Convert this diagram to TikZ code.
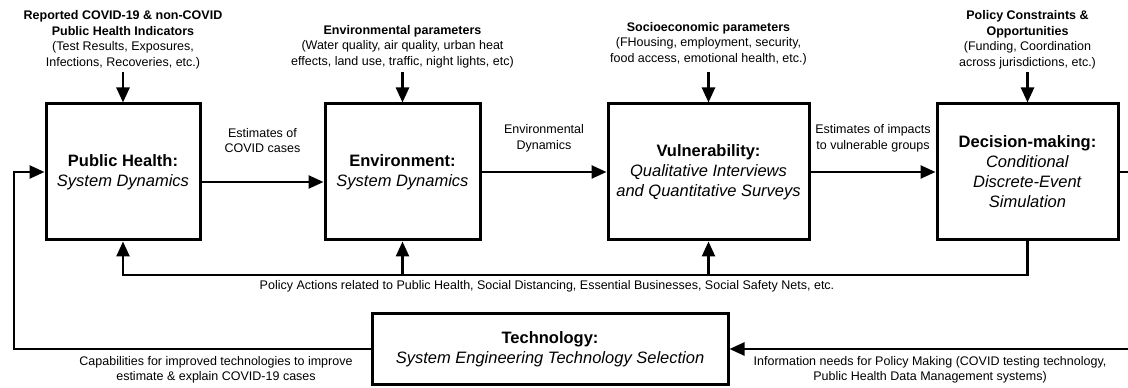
\documentclass[tikz,border=0pt]{standalone}
\usepackage{fontspec}
\setmainfont{Liberation Sans}
\usetikzlibrary{arrows.meta,positioning}
\newcommand{\notetext}{\fontsize{12.5}{15.5}\selectfont}
\newcommand{\moduletext}{\fontsize{16.5}{20}\selectfont}
\tikzset{
  module/.style = {draw, line width=3pt, align=center, font=\moduletext, minimum height=136pt},
  techbox/.style = {module, minimum height=71pt, minimum width=356pt},
  note/.style   = {align=center, font=\notetext, inner sep=0pt},
  flow/.style   = {-{Triangle[length=15pt,width=13pt]}, line width=2.5pt}
}

\begin{document}
\begin{tikzpicture}[x=1pt, y=1pt]
\useasboundingbox (0,0) rectangle (1128,388);

% the four modules, left to right
\node[module, minimum width=154pt] (ph) at (123,216) {\textbf{Public Health:}\\\textit{System Dynamics}};
\node[module, minimum width=155pt, right=122pt of ph] (env) {\textbf{Environment:}\\\textit{System Dynamics}};
\node[module, minimum width=201pt, right=125pt of env] (vul) {\textbf{Vulnerability:}\\\textit{Qualitative Interviews}\\\textit{and Quantitative Surveys}};
\node[module, minimum width=181pt, right=125pt of vul] (dec) {\textbf{Decision-making:}\\\textit{Conditional}\\\textit{Discrete-Event}\\\textit{Simulation}};

% technology module below
\node[techbox] (tech) at (550,39) {\textbf{Technology:}\\\textit{System Engineering Technology Selection}};

% main flow between modules
\draw[flow] ([yshift=-10pt]ph.east) -- node[note, above=28pt] {Estimates of\\COVID cases} ([yshift=-10pt]env.west);
\draw[flow] (env) -- node[note, above=19pt] {Environmental\\Dynamics} (vul);
\draw[flow] (vul) -- node[note, above=19pt] {Estimates of impacts\\to vulnerable groups} (dec);

% inputs from the top
\coordinate (top) at (0,316);
\foreach \m in {ph,env,vul,dec}
  \draw[flow] (\m.north |- top) -- (\m.north);
\node[note, above=3pt] (phsrc) at (ph.north |- top) {\textbf{Reported COVID-19 \& non-COVID}\\\textbf{Public Health Indicators}\\(Test Results, Exposures,\\Infections, Recoveries, etc.)};
\node[note, above=4pt] (envsrc) at (env.north |- top) {\textbf{Environmental parameters}\\(Water quality, air quality, urban heat\\effects, land use, traffic, night lights, etc)};
\node[note, above=7pt] (vulsrc) at (vul.north |- top) {\textbf{Socioeconomic parameters}\\(FHousing, employment, security,\\food access, emotional health, etc.)};
\node[note, above=3pt] (decsrc) at (dec.north |- top) {\textbf{Policy Constraints \&}\\\textbf{Opportunities}\\(Funding, Coordination\\across jurisdictions, etc.)};

% policy actions fed back to the modules
\coordinate (bus) at (0,113);
\draw[flow] (dec.south) -- (dec.south |- bus) -- (ph.south |- bus) -- (ph.south);
\draw[flow] (env.south |- bus) -- (env.south);
\draw[flow] (vul.south |- bus) -- (vul.south);
\node[note, below=5pt] (policy) at (547,113) {Policy Actions related to Public Health, Social Distancing, Essential Businesses, Social Safety Nets, etc.};

% loops through technology
\coordinate (lft) at (14,0);
\coordinate (rgt) at (1140,0);
\draw[flow] (tech.west) -- (tech.west -| lft) -- (lft |- ph.west) -- (ph.west);
\draw[flow] (dec.east) -- (dec.east -| rgt) -- (rgt |- tech.east) -- (tech.east);
\node[note] (capab) at (216,18) {Capabilities for improved technologies to improve\\estimate \& explain COVID-19 cases};
\node[note] (info) at (930,18) {Information needs for Policy Making (COVID testing technology,\\Public Health Data Management systems)};
\end{tikzpicture}
\end{document}
